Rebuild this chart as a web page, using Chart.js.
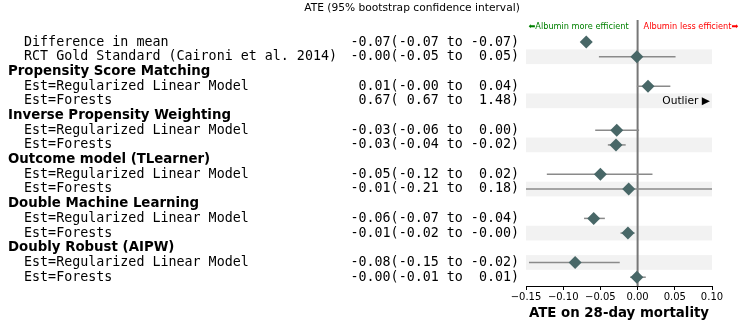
<!DOCTYPE html>
<html>
<head>
<meta charset="utf-8">
<script src="https://cdn.jsdelivr.net/npm/chart.js@4"></script>
<style>
  html, body { margin: 0; padding: 0; background: #fff; }
  #wrap { width: 748px; height: 329px; }
</style>
</head>
<body>
<div id="wrap"><canvas id="forest" width="748" height="329"></canvas></div>
<script>
'use strict';

/* ── Data ───────────────────────────────────────────────────────── */
const baselines  = ['Difference in mean', 'RCT Gold Standard (Caironi et al. 2014)'];
const groups     = ['Propensity Score Matching', 'Inverse Propensity Weighting',
                    'Outcome model (TLearner)', 'Double Machine Learning', 'Doubly Robust (AIPW)'];
const estimators = ['Est=Regularized Linear Model', 'Est=Forests'];

// one entry per estimate row: baselines first, then 2 estimators per group
const ate  = [-0.069, -0.001,  0.014, 0.67, -0.028, -0.029, -0.050, -0.012, -0.059, -0.013, -0.084, -0.001];
const ciLo = [-0.071, -0.052, -0.001, 0.67, -0.057, -0.040, -0.122, -0.210, -0.072, -0.023, -0.146, -0.010];
const ciHi = [-0.067,  0.051,  0.044, 1.48,  0.002, -0.016,  0.020,  0.180, -0.044, -0.004, -0.024,  0.011];

const xTicks     = [-0.15, -0.10, -0.05, 0.00, 0.05, 0.10];
const shadedRows = [1, 4, 7, 10, 13, 15];

/* ── Row layout: headers take a row of their own ───────────────── */
const rows = [];   // {text, header, est}
baselines.forEach((b, i) => rows.push({ text: '  ' + b, header: false, est: i }));
groups.forEach((g, gi) => {
  rows.push({ text: g, header: true, est: -1 });
  estimators.forEach((e, ei) => rows.push({ text: '  ' + e, header: false, est: baselines.length + gi * 2 + ei }));
});
const estRow = [];
rows.forEach((r, i) => { if (r.est >= 0) estRow[r.est] = i; });

const X_MIN = xTicks[0], X_MAX = xTicks[xTicks.length - 1];
const fmt = v => v.toFixed(2).padStart(5);
const ciText = i => `${fmt(ate[i])}(${fmt(ciLo[i])} to ${fmt(ciHi[i])})`;

const MONO = "'DejaVu Sans Mono', monospace";
const SANS = "'DejaVu Sans', sans-serif";

/* ── Plugin: bands, zero line, error bars, text ─────────────────── */
const forestDecor = {
  id: 'forestDecor',
  beforeDatasetsDraw(chart) {
    const { ctx, chartArea: a, scales: { x, y } } = chart;
    ctx.save();
    // shaded bands
    ctx.fillStyle = '#f2f2f2';
    shadedRows.forEach(r => {
      const t = y.getPixelForValue(r - 0.5), b = y.getPixelForValue(r + 0.5);
      ctx.fillRect(a.left, t, a.right - a.left, b - t);
    });
    // zero reference line
    const zx = x.getPixelForValue(0);
    ctx.strokeStyle = '#777';
    ctx.lineWidth = 2;
    ctx.beginPath(); ctx.moveTo(zx, a.top); ctx.lineTo(zx, a.bottom); ctx.stroke();
    // error bars, clipped to the plot
    ctx.beginPath(); ctx.rect(a.left, a.top, a.right - a.left, a.bottom - a.top); ctx.clip();
    ctx.strokeStyle = '#8a8a8a';
    ctx.lineWidth = 1.5;
    ate.forEach((v, i) => {
      if (v > X_MAX) return;
      const py = y.getPixelForValue(estRow[i]);
      ctx.beginPath();
      ctx.moveTo(x.getPixelForValue(ciLo[i]), py);
      ctx.lineTo(x.getPixelForValue(ciHi[i]), py);
      ctx.stroke();
    });
    ctx.restore();
  },
  afterDraw(chart) {
    const { ctx, chartArea: a, scales: { x, y } } = chart;
    ctx.save();
    ctx.textBaseline = 'middle';
    ctx.fillStyle = '#000';
    // row labels and CI text
    rows.forEach((r, i) => {
      const py = y.getPixelForValue(i);
      ctx.textAlign = 'left';
      ctx.font = r.header ? `bold 13.33px ${SANS}` : `13.33px ${MONO}`;
      ctx.fillText(r.text, 8, py);
      if (r.est >= 0) {
        ctx.font = `13.33px ${MONO}`;
        ctx.textAlign = 'right';
        ctx.fillText(ciText(r.est), 519, py);
      }
    });
    // outliers
    ate.forEach((v, i) => {
      if (v <= X_MAX) return;
      ctx.font = `10.67px ${SANS}`;
      ctx.textAlign = 'right';
      ctx.fillText('Outlier \u25B6', a.right - 2, y.getPixelForValue(estRow[i]));
    });
    // direction hints
    const zx = x.getPixelForValue(0);
    ctx.font = `8.2px ${SANS}`;
    ctx.textAlign = 'right';
    ctx.fillStyle = '#008000';
    ctx.fillText('\u2B05Albumin more efficient', zx - 9, 27);
    ctx.textAlign = 'left';
    ctx.fillStyle = '#ff0000';
    ctx.fillText('Albumin less efficient\u27A1', zx + 6, 27);
    // title
    ctx.fillStyle = '#000';
    ctx.textAlign = 'center';
    ctx.font = `10.67px ${SANS}`;
    ctx.fillText('ATE (95% bootstrap confidence interval)', 412, 8);
    ctx.restore();
  },
};

new Chart(document.getElementById('forest'), {
  type: 'scatter',
  data: {
    datasets: [{
      data: ate.map((v, i) => ({ x: v, y: estRow[i] })).filter(p => p.x <= X_MAX),
      pointStyle: 'rectRot',
      pointRadius: 6.5,
      backgroundColor: '#486767',
      borderColor: '#486767',
      borderWidth: 0,
    }],
  },
  options: {
    responsive: false,
    animation: false,
    devicePixelRatio: 1,
    layout: { padding: { left: 526, right: 36, top: 20, bottom: 0 } },
    plugins: { legend: { display: false }, tooltip: { enabled: false } },
    scales: {
      x: {
        type: 'linear',
        min: X_MIN,
        max: X_MAX,
        afterBuildTicks: s => { s.ticks = xTicks.map(v => ({ value: v })); },
        afterFit: s => { s.height = 43; },
        ticks: {
          color: '#000',
          padding: 1,
          maxRotation: 0,
          autoSkip: false,
          font: { family: SANS, size: 10 },
          callback: v => (Math.abs(v) < 1e-9 ? 0 : v).toFixed(2).replace('-', '\u2212'),
        },
        grid: { drawOnChartArea: false, drawTicks: true, tickLength: 4, tickColor: '#000' },
        border: { display: true, color: '#000', width: 1 },
        title: {
          display: true,
          text: 'ATE on 28-day mortality',
          color: '#000',
          font: { family: SANS, size: 13.33, weight: 'bold' },
          padding: { top: 0, bottom: 7 },
        },
      },
      y: { type: 'linear', min: -1.5, max: 16.6, reverse: true, display: false },
    },
  },
  plugins: [forestDecor],
});
</script>
</body>
</html>
